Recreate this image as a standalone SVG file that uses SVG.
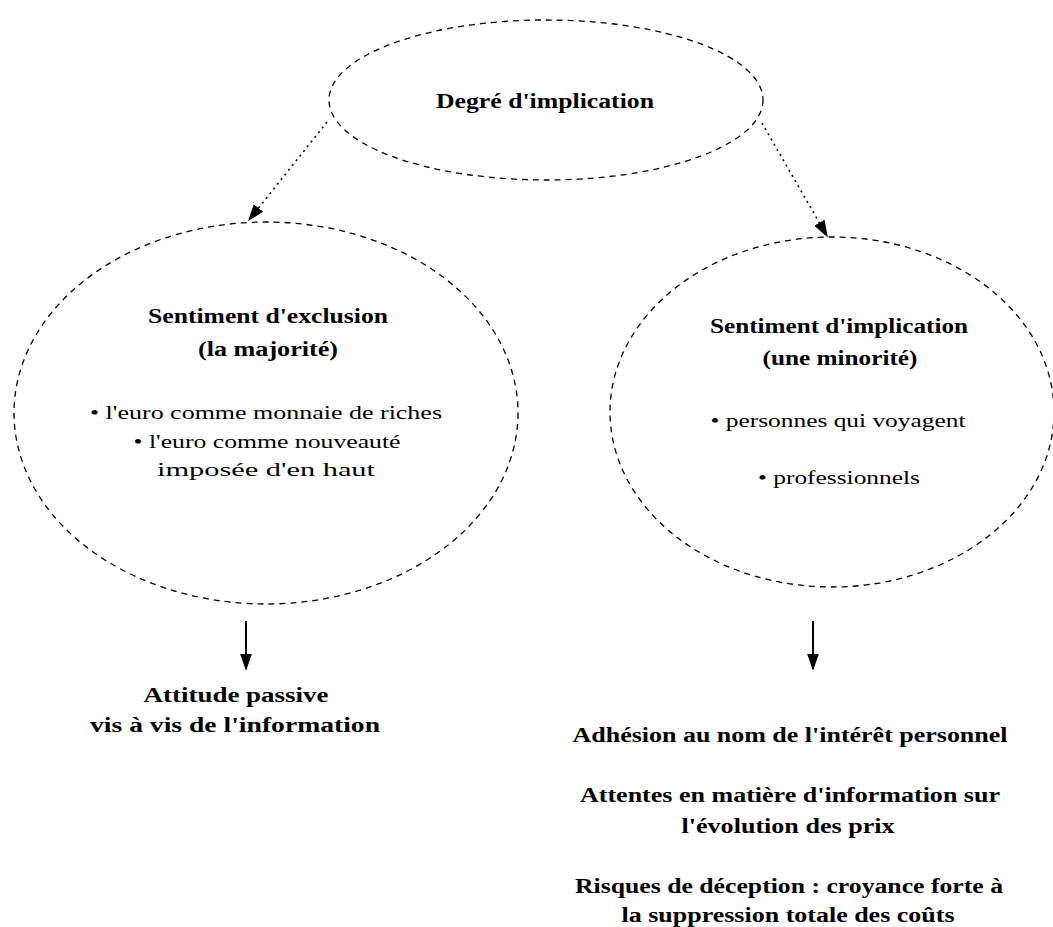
<svg xmlns="http://www.w3.org/2000/svg" width="1053" height="927" viewBox="0 0 1053 927">
<style>
.bg{fill:#ffffff}
.node{fill:none;stroke:#000;stroke-width:1.3;stroke-dasharray:6 5}
.t{font-family:"Liberation Serif","Times New Roman",serif;fill:#000;text-anchor:middle}
.b{font-weight:bold;font-size:20px}
.r{font-size:19px}
.dot{fill:none;stroke:#000;stroke-width:1.6;stroke-dasharray:2 4}
.solid{fill:none;stroke:#000;stroke-width:2}
</style>
<defs>
<marker id="ahd" viewBox="0 0 10 10" refX="9" refY="5" markerWidth="17" markerHeight="17" markerUnits="userSpaceOnUse" orient="auto">
<path d="M0,1.5 L10,5 L0,8.5 z" fill="#000"/>
</marker>
</defs>
<rect class="bg" x="0" y="0" width="1053" height="927"/>

<g id="connectors">
<line class="dot" x1="327" y1="122" x2="249" y2="220" marker-end="url(#ahd)"/>
<line class="dot" x1="762" y1="123" x2="827" y2="236" marker-end="url(#ahd)"/>
<line class="solid" x1="246" y1="621" x2="246" y2="669" marker-end="url(#ahd)"/>
<line class="solid" x1="813" y1="621" x2="813" y2="669" marker-end="url(#ahd)"/>
</g>

<g id="node-degre">
<ellipse class="node" cx="546" cy="100" rx="217" ry="80"/>
<text class="t b" x="545" y="108" textLength="218" lengthAdjust="spacingAndGlyphs">Degré d'implication</text>
</g>

<g id="node-exclusion">
<ellipse class="node" cx="266" cy="413" rx="252" ry="191"/>
<text class="t b" x="268" y="323" textLength="240" lengthAdjust="spacingAndGlyphs">Sentiment d'exclusion</text>
<text class="t b" x="268" y="356" textLength="140" lengthAdjust="spacingAndGlyphs">(la majorité)</text>
<text class="t r" x="266" y="419" textLength="352" lengthAdjust="spacingAndGlyphs">• l'euro comme monnaie de riches</text>
<text class="t r" x="267" y="448" textLength="267" lengthAdjust="spacingAndGlyphs">• l'euro comme nouveauté</text>
<text class="t r" x="266" y="476" textLength="218" lengthAdjust="spacingAndGlyphs">imposée d'en haut</text>
</g>

<g id="node-implication">
<ellipse class="node" cx="832" cy="412" rx="222" ry="175"/>
<text class="t b" x="839" y="333" textLength="258" lengthAdjust="spacingAndGlyphs">Sentiment d'implication</text>
<text class="t b" x="840" y="365" textLength="155" lengthAdjust="spacingAndGlyphs">(une minorité)</text>
<text class="t r" x="838" y="427" textLength="255" lengthAdjust="spacingAndGlyphs">• personnes qui voyagent</text>
<text class="t r" x="839" y="484" textLength="162" lengthAdjust="spacingAndGlyphs">• professionnels</text>
</g>

<g id="node-attitude">
<text class="t b" x="236" y="702" textLength="185" lengthAdjust="spacingAndGlyphs">Attitude passive</text>
<text class="t b" x="235" y="732" textLength="290" lengthAdjust="spacingAndGlyphs">vis à vis de l'information</text>
</g>

<g id="node-adhesion">
<text class="t b" x="790" y="742" textLength="435" lengthAdjust="spacingAndGlyphs">Adhésion au nom de l'intérêt personnel</text>
<text class="t b" x="790" y="802" textLength="420" lengthAdjust="spacingAndGlyphs">Attentes en matière d'information sur</text>
<text class="t b" x="788" y="833" textLength="213" lengthAdjust="spacingAndGlyphs">l'évolution des prix</text>
<text class="t b" x="789" y="893" textLength="428" lengthAdjust="spacingAndGlyphs">Risques de déception : croyance forte à</text>
<text class="t b" x="788" y="922" textLength="333" lengthAdjust="spacingAndGlyphs">la suppression totale des coûts</text>
</g>
</svg>
